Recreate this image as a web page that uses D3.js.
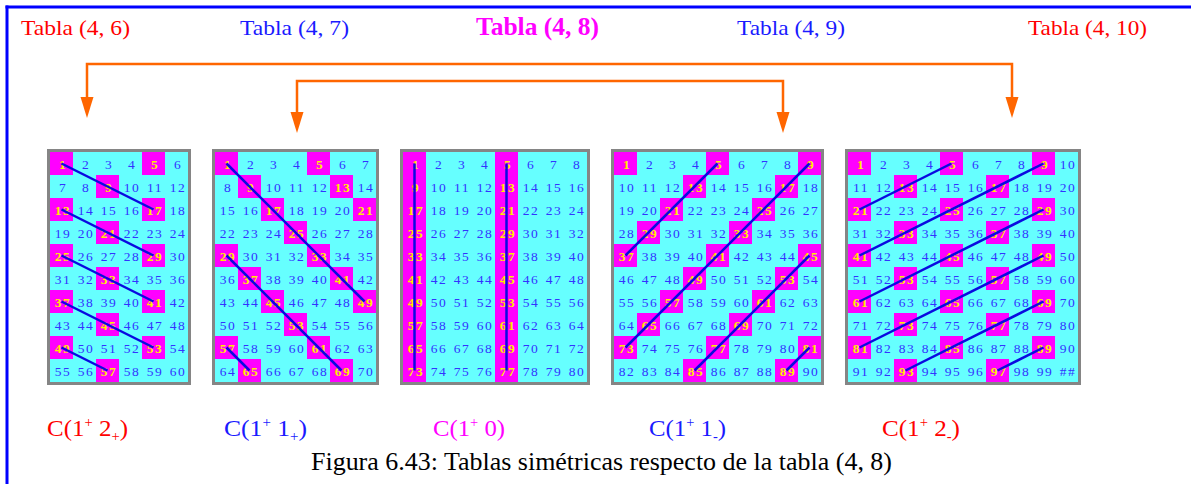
<!DOCTYPE html>
<html><head><meta charset="utf-8">
<script src="https://cdn.jsdelivr.net/npm/d3@7"></script>
<style>body{margin:0;background:#fff}svg{display:block}</style>
</head><body>
<div id="chart"></div>
<script>
// ---- data ----
const tableTitles = ["Tabla (4, 6)", "Tabla (4, 7)", "Tabla (4, 8)", "Tabla (4, 9)", "Tabla (4, 10)"];
const tableCols = [6, 7, 8, 9, 10];
const tableRows = 10;
const highlightStep = 4;          // highlighted cells: 1, 5, 9, 13, ...
const overflowLabel = "##";       // cells with 3 digits show as ##
// diagonal segments (start cell, end cell) for each table
const segments = [
  [[1, 17], [13, 29], [25, 41], [37, 53], [49, 57]],
  [[1, 49], [29, 69], [57, 65]],
  [[1, 73], [5, 77]],
  [[5, 37], [9, 73], [45, 85], [81, 89]],
  [[5, 21], [9, 41], [29, 61], [49, 81], [69, 93], [89, 97]]
];
const labelBase = ["2", "1", "0", "1", "2"];
const labelSub = ["+", "+", "", "-", "-"];
const caption = "Figura 6.43: Tablas simétricas respecto de la tabla (4, 8)";
// arrows connect table pairs: (4,6)<->(4,10) and (4,7)<->(4,9)
const arrowPairs = [[0, 4], [1, 3]];

// ---- styles / layout ----
const FONT = "Liberation Serif";
const W = 1191, H = 484;
const cellW = 23, cellH = 23, gridX0 = 50, gridGap = 27, gridY0 = 152;
const titleColors = ["#ff0000", "#1a1aff", "#ff00ff", "#1a1aff", "#ff0000"];
const titleX = [21, 240, 476, 737, 1028];
const titleLen = [109, 109, 123, 108, 119];
const labelX = [47, 224, 433, 649, 882];
const labelLen = [81, 83, 72, 77, 78];
const arrowX = [[87, 1012], [297, 783]];
const arrowY = [64, 81];
const arrowTip = [118, 133];

const svg = d3.select("#chart").append("svg").attr("width", W).attr("height", H)
  .attr("font-family", FONT);

// border
svg.append("line").attr("x1", 5.5).attr("x2", W).attr("y1", 7).attr("y2", 7)
  .attr("stroke", "#0000ff").attr("stroke-width", 3);
svg.append("line").attr("x1", 7).attr("x2", 7).attr("y1", 5.5).attr("y2", H)
  .attr("stroke", "#0000ff").attr("stroke-width", 3);

// titles
tableTitles.forEach((t, i) => {
  svg.append("text").attr("x", titleX[i]).attr("y", 35)
    .attr("font-family", FONT)
    .attr("fill", titleColors[i])
    .attr("font-size", i === 2 ? 25 : 22)
    .attr("font-weight", i === 2 ? "bold" : "normal")
    .attr("textLength", titleLen[i]).attr("lengthAdjust", "spacingAndGlyphs")
    .text(t);
});

// arrows
arrowPairs.forEach((p, k) => {
  const [xl, xr] = arrowX[k], y = arrowY[k], tip = arrowTip[k];
  const hh = 21, hw = 6.5;
  svg.append("path")
    .attr("d", `M${xl},${tip - hh + 2}V${y}H${xr}V${tip - hh + 2}`)
    .attr("fill", "none").attr("stroke", "#ff6600").attr("stroke-width", 2.5);
  [xl, xr].forEach(x => {
    svg.append("path").attr("d", `M${x - hw},${tip - hh}L${x + hw},${tip - hh}L${x},${tip}Z`)
      .attr("fill", "#ff6600");
  });
});

// tables
let xStart = gridX0;
tableCols.forEach((cols, ti) => {
  const x = d3.scaleBand().domain(d3.range(cols)).range([xStart, xStart + cols * cellW]);
  const y = d3.scaleBand().domain(d3.range(tableRows)).range([gridY0, gridY0 + tableRows * cellH]);
  const g = svg.append("g");
  const cells = d3.range(1, cols * tableRows + 1).map(n => ({
    n, r: Math.floor((n - 1) / cols), c: (n - 1) % cols, hl: (n - 1) % highlightStep === 0
  }));
  g.selectAll("rect.cell").data(cells).join("rect").attr("class", "cell")
    .attr("x", d => x(d.c)).attr("y", d => y(d.r))
    .attr("width", x.bandwidth() + 0.5).attr("height", y.bandwidth() + 0.5)
    .attr("fill", d => d.hl ? "#ff00ff" : "#66ffff");
  // frame
  g.append("rect").attr("x", xStart - 1.5).attr("y", gridY0 - 1.5)
    .attr("width", cols * cellW + 3).attr("height", tableRows * cellH + 3)
    .attr("fill", "none").attr("stroke", "#858585").attr("stroke-width", 3);
  g.selectAll("text.num").data(cells).join("text").attr("class", "num")
    .attr("font-family", FONT)
    .attr("x", d => x(d.c) + x.bandwidth() / 2 + 1.5)
    .attr("y", d => y(d.r) + y.bandwidth() / 2 + 5)
    .attr("text-anchor", "middle")
    .attr("font-size", 13.5).attr("letter-spacing", 1.5)
    .attr("font-weight", d => d.hl ? "bold" : "normal")
    .attr("fill", d => d.hl ? "#ffee00" : "#3333ff")
    .text(d => d.n >= 100 ? overflowLabel : d.n);
  // diagonal lines
  const ctr = n => [x((n - 1) % cols) + x.bandwidth() / 2, y(Math.floor((n - 1) / cols)) + y.bandwidth() / 2];
  g.selectAll("line.seg").data(segments[ti]).join("line").attr("class", "seg")
    .attr("x1", d => ctr(d[0])[0]).attr("y1", d => ctr(d[0])[1])
    .attr("x2", d => ctr(d[1])[0]).attr("y2", d => ctr(d[1])[1])
    .attr("stroke", "#0a0ae0").attr("stroke-width", 2.5);
  xStart += cols * cellW + gridGap;
});

// bottom labels
labelBase.forEach((b, i) => {
  const t = svg.append("text").attr("x", labelX[i]).attr("y", 436)
    .attr("font-family", FONT)
    .attr("fill", titleColors[i]).attr("font-size", 24)
    .attr("textLength", labelLen[i]).attr("lengthAdjust", "spacingAndGlyphs");
  t.append("tspan").text("C(1");
  t.append("tspan").attr("font-size", 14).attr("dy", -9).text("+");
  t.append("tspan").attr("dy", 9).text(" " + b);
  if (labelSub[i]) {
    t.append("tspan").attr("font-size", 14).attr("dy", 5).text(labelSub[i]);
    t.append("tspan").attr("dy", -5).text(")");
  } else {
    t.append("tspan").text(")");
  }
});

// caption
svg.append("text").attr("x", 311).attr("y", 470).attr("fill", "#000")
  .attr("font-family", FONT)
  .attr("font-size", 25).attr("textLength", 581).attr("lengthAdjust", "spacingAndGlyphs")
  .text(caption);
</script>
</body></html>
